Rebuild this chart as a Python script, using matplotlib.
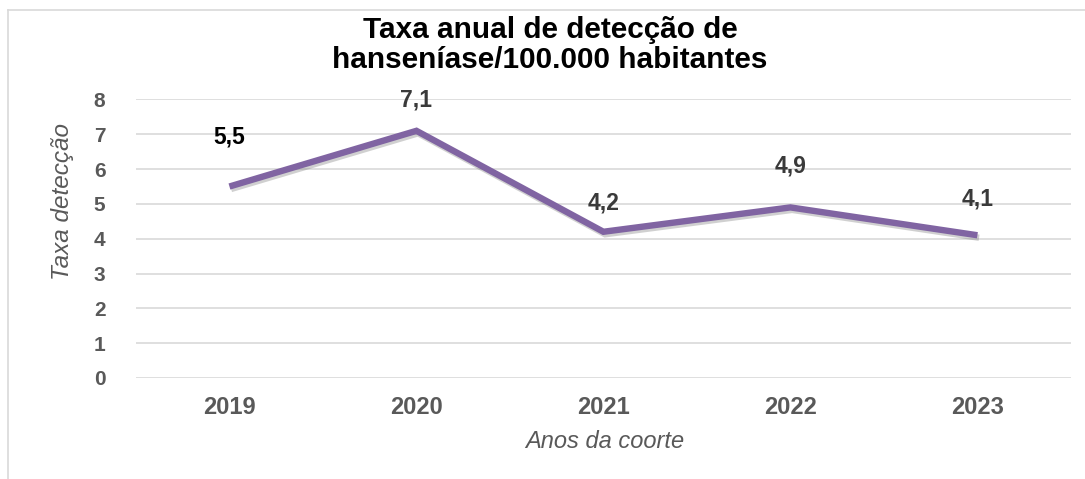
import matplotlib
matplotlib.use("Agg")
import matplotlib.pyplot as plt
import matplotlib.patheffects as pe
from matplotlib.lines import Line2D

# Data
anos = ["2019", "2020", "2021", "2022", "2023"]
taxa = [5.5, 7.1, 4.2, 4.9, 4.1]
rotulos = ["5,5", "7,1", "4,2", "4,9", "4,1"]
y_ticks = [0, 1, 2, 3, 4, 5, 6, 7, 8]

titulo = "Taxa anual de detecção de\nhanseníase/100.000 habitantes"
eixo_x = "Anos da coorte"
eixo_y = "Taxa detecção"

plt.rcParams["font.family"] = ["Liberation Sans", "DejaVu Sans"]

fig = plt.figure(figsize=(10.85, 4.79), dpi=100)
ax = fig.add_axes([0.1253, 0.2109, 0.8617, 0.5814])

x = list(range(len(anos)))
ax.plot(x, taxa, color="#8064A2", lw=4.6, solid_joinstyle="miter",
        solid_capstyle="butt", zorder=3,
        path_effects=[pe.SimpleLineShadow(offset=(1.2, -1.8), shadow_color="#666666", alpha=0.3),
                      pe.Normal()])

# Value labels above each point
label_offsets = [36, 22, 21, 30, 26]
label_colors = ["#000000", "#3a3a3a", "#3a3a3a", "#3a3a3a", "#3a3a3a"]
for xi, yi, txt, off, col in zip(x, taxa, rotulos, label_offsets, label_colors):
    ax.annotate(txt, (xi, yi), xytext=(0, off), textcoords="offset points",
                ha="center", va="center", fontsize=16.5, fontweight="bold",
                color=col, zorder=4)

ax.set_xlim(-0.5, len(anos) - 0.5)
ax.set_ylim(0, 8)
ax.set_yticks(y_ticks)
ax.set_yticklabels([str(v) for v in y_ticks], fontsize=15, fontweight="bold", color="#595959")
ax.set_xticks(x)
ax.set_xticklabels(anos, fontsize=17, fontweight="bold", color="#595959")
ax.tick_params(axis="both", length=0)
ax.tick_params(axis="y", pad=22)
ax.tick_params(axis="x", pad=13)

ax.grid(axis="y", color="#d9d9d9", lw=1.2)
ax.set_axisbelow(True)
for s in ax.spines.values():
    s.set_visible(False)

fig.text(605 / 1085, 1 - 442 / 479, eixo_x, ha="center", va="center",
         fontsize=17, style="italic", color="#595959")
fig.text(62 / 1085, 1 - 202 / 479, eixo_y, ha="center", va="center",
         fontsize=17.5, style="italic", color="#595959", rotation=90)

fig.text(0.507, 1 - 45 / 479, titulo, ha="center", va="center", fontsize=21.4,
         fontweight="bold", color="#000000", linespacing=1.08)

# Chart area border (left and top edges visible)
fig.add_artist(Line2D([0.0074, 0.0074], [0.0, 0.979], transform=fig.transFigure,
                      color="#d9d9d9", lw=1.2))
fig.add_artist(Line2D([0.0074, 1.0], [0.979, 0.979], transform=fig.transFigure,
                      color="#d9d9d9", lw=1.2))

fig.savefig("out.png", dpi=100, facecolor="white")
